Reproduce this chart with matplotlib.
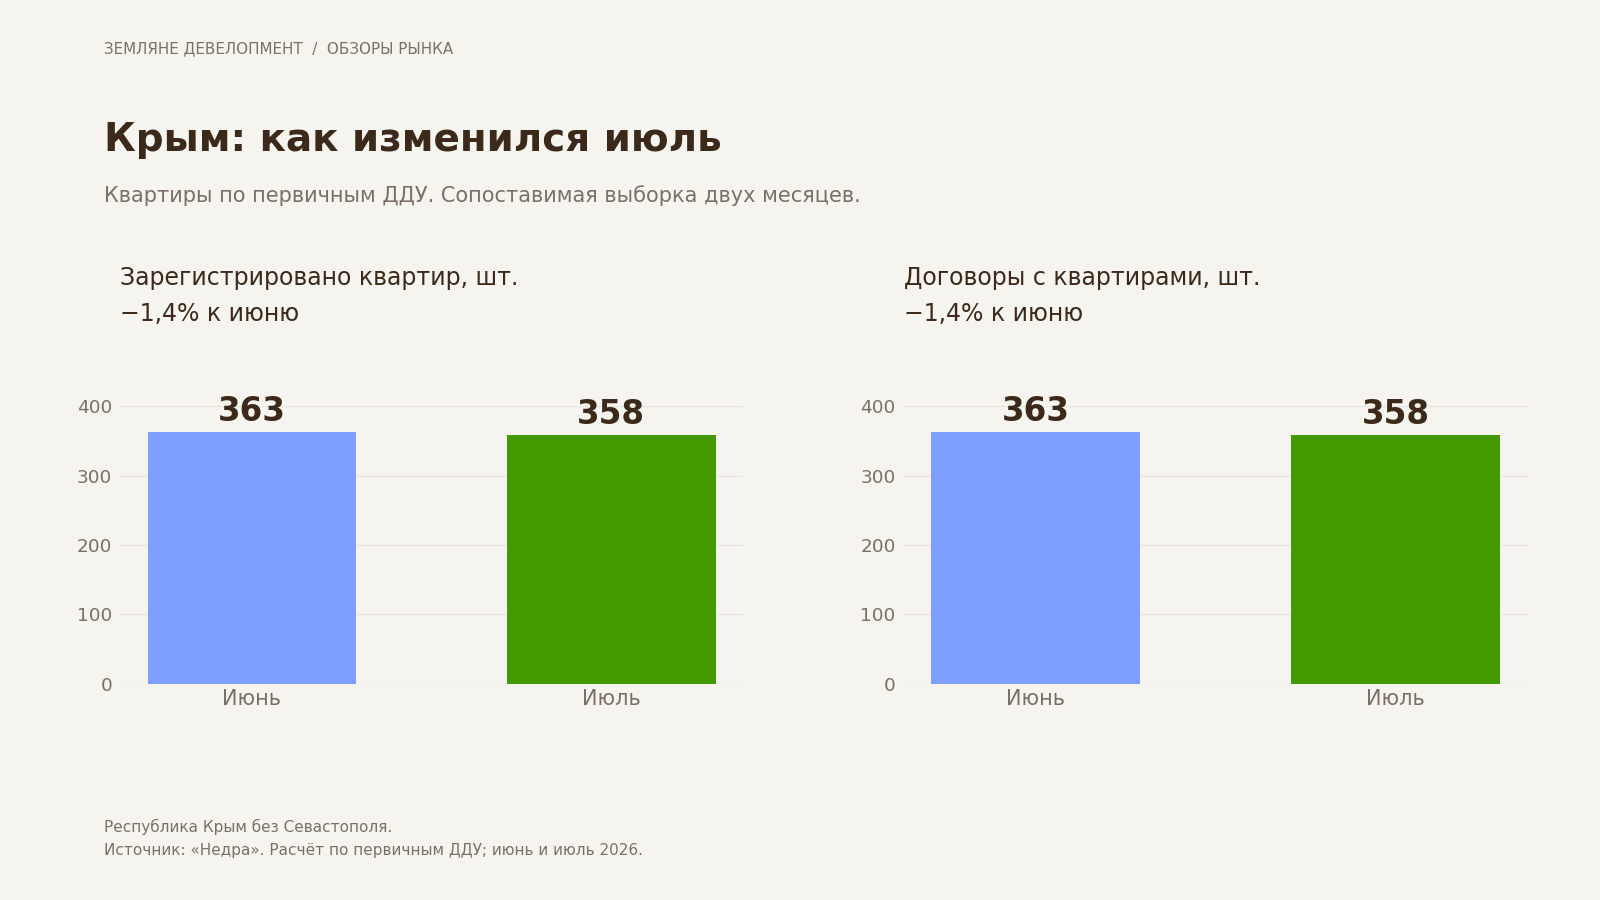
import matplotlib
matplotlib.use("Agg")
import matplotlib.pyplot as plt

# ---- data ----
categories = ["Июнь", "Июль"]
registered = [363, 358]
contracts = [363, 358]
bar_colors = ["#7f9fff", "#429a00"]
yticks = [0, 100, 200, 300, 400]

panel_titles = ["Зарегистрировано квартир, шт.", "Договоры с квартирами, шт."]
panel_subs = ["−1,4% к июню", "−1,4% к июню"]
panel_values = [registered, contracts]

BG = "#f5f4ee"
DARK = "#3b2a1c"
GRAY = "#7a7068"
GRID = "#e8e6df"

plt.rcParams['font.family'] = ['DejaVu Sans']

W, H = 1568.0, 882.0
fig = plt.figure(figsize=(16, 9), dpi=100, facecolor=BG)

def fx(px):
    return px / W

def fy(py):
    return 1 - py / H

fig.text(fx(102), fy(48), "ЗЕМЛЯНЕ ДЕВЕЛОПМЕНТ  /  ОБЗОРЫ РЫНКА", fontsize=10.9,
         color=GRAY, ha="left", va="center")
fig.text(fx(102), fy(137), "Крым: как изменился июль", fontsize=28, fontweight="bold",
         color=DARK, ha="left", va="center")
fig.text(fx(102), fy(192), "Квартиры по первичным ДДУ. Сопоставимая выборка двух месяцев.",
         fontsize=15, color=GRAY, ha="left", va="center")
fig.text(fx(102), fy(810), "Республика Крым без Севастополя.", fontsize=11,
         color=GRAY, ha="left", va="center")
fig.text(fx(102), fy(833), "Источник: «Недра». Расчёт по первичным ДДУ; июнь и июль 2026.",
         fontsize=11, color=GRAY, ha="left", va="center")

axes_x = [(118, 728), (886, 1497)]
for i, (x0, x1) in enumerate(axes_x):
    ax = fig.add_axes([fx(x0), fy(670), fx(x1) - fx(x0), fy(398) - fy(670)])
    ax.set_facecolor(BG)
    vals = panel_values[i]
    xs = list(range(len(categories)))
    bars = ax.bar(xs, vals, width=0.58, color=bar_colors, zorder=2)
    ax.set_xlim(-0.366, 1.366)
    ax.set_ylim(0, 400)
    ax.set_yticks(yticks)
    ax.set_yticklabels([str(t) for t in yticks])
    ax.set_xticks(xs)
    ax.set_xticklabels(categories)
    ax.tick_params(axis="y", length=0, labelsize=13.3, labelcolor=GRAY, pad=6)
    ax.tick_params(axis="x", length=0, labelsize=15, labelcolor=GRAY, pad=4)
    ax.grid(axis="y", color=GRID, linewidth=1, zorder=0)
    for s in ax.spines.values():
        s.set_visible(False)
    for b, v in zip(bars, vals):
        ax.annotate(str(v), (b.get_x() + b.get_width() / 2, v), xytext=(0, 3),
                    textcoords="offset points", ha="center", va="bottom",
                    fontsize=23.5, fontweight="bold", color=DARK, annotation_clip=False)
    fig.text(fx(x0), fy(272), panel_titles[i], fontsize=17, color=DARK,
             ha="left", va="center")
    fig.text(fx(x0), fy(308), panel_subs[i], fontsize=17, color=DARK,
             ha="left", va="center")

fig.savefig("out.png", dpi=100, facecolor=BG)
